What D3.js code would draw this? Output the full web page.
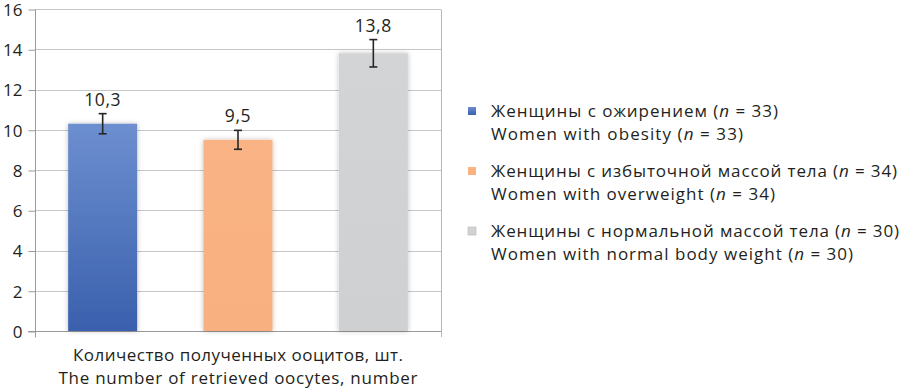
<!DOCTYPE html>
<html><head><meta charset="utf-8">
<script src="https://cdn.jsdelivr.net/npm/d3@7"></script>
<style>html,body{margin:0;padding:0;background:#fff;}svg{display:block;}</style>
</head><body>
<svg id="chart" width="900" height="388"></svg>
<script>
const groups = ["obesity", "overweight", "normal"];
const values = [10.3, 9.5, 13.8];
const errors = [0.5, 0.47, 0.68];
const valueLabels = ["10,3", "9,5", "13,8"];
const colorsTop = ["#6d8fd0", "#f9b384", "#d3d4d6"];
const colorsBottom = ["#3a60ad", "#f9b080", "#cfd0d2"];
const yTicks = [0, 2, 4, 6, 8, 10, 12, 14, 16];
const categoryLabel = ["Количество полученных ооцитов, шт.", "The number of retrieved oocytes, number"];
const legendRu = ["Женщины с ожирением", "Женщины с избыточной массой тела", "Женщины с нормальной массой тела"];
const legendEn = ["Women with obesity", "Women with overweight", "Women with normal body weight"];
const legendN = [33, 34, 30];

const svg = d3.select("#chart");
const font = "'Open Sans', sans-serif";
const pLeft = 35, pRight = 441, pTop = 9, pBottom = 331;

const x = d3.scaleBand().domain(groups).range([pLeft, pRight]).paddingInner(0.49).paddingOuter(0.245);
const y = d3.scaleLinear().domain([0, 16]).range([pBottom, pTop]);

const defs = svg.append("defs");
groups.forEach((g, i) => {
  const lg = defs.append("linearGradient").attr("id", "grad" + i).attr("x1", 0).attr("y1", 0).attr("x2", 0).attr("y2", 1);
  lg.append("stop").attr("offset", "0%").attr("stop-color", colorsTop[i]);
  lg.append("stop").attr("offset", "100%").attr("stop-color", colorsBottom[i]);
});
const f = defs.append("filter").attr("id", "shadow").attr("x", "-20%").attr("y", "-20%").attr("width", "140%").attr("height", "140%");
f.append("feDropShadow").attr("dx", 0).attr("dy", 0).attr("stdDeviation", 2.5).attr("flood-color", "#000").attr("flood-opacity", 0.25);

// spread a text element to a target width via letter-spacing
function fitWidth(sel, target) {
  sel.each(function() {
    const n = this.getNumberOfChars();
    const w = this.getComputedTextLength();
    if (n > 1) d3.select(this).attr("letter-spacing", ((target - w) / (n - 1)).toFixed(3));
  });
}

// gridlines
svg.append("g").selectAll("line").data(yTicks).join("line")
  .attr("x1", pLeft).attr("x2", pRight)
  .attr("y1", d => Math.round(y(d)) + 0.5).attr("y2", d => Math.round(y(d)) + 0.5)
  .attr("stroke", "#c6c6c6").attr("stroke-width", 1);
// right border
svg.append("line").attr("x1", pRight + 0.5).attr("x2", pRight + 0.5).attr("y1", Math.round(y(16)) + 0.5).attr("y2", Math.round(y(0)) + 6)
  .attr("stroke", "#b8b8b8");

// y axis
const yAxis = d3.axisLeft(y).tickValues(yTicks).tickSize(7).tickPadding(6).tickFormat(d3.format("d"));
const ya = svg.append("g").attr("transform", `translate(${pLeft + 0.5},0.5)`).call(yAxis);
ya.select(".domain").attr("stroke", "#9a9a9a").attr("d", `M0,${y(16)}V${y(0) + 6}`);
ya.selectAll(".tick line").attr("stroke", "#9a9a9a");
ya.selectAll(".tick text").attr("font-family", font).attr("font-size", 17).attr("fill", "#231f20")
  .attr("dy", "0.34em");

// x axis line
svg.append("line").attr("x1", pLeft - 7).attr("x2", pRight).attr("y1", Math.round(y(0)) + 0.5).attr("y2", Math.round(y(0)) + 0.5)
  .attr("stroke", "#9a9a9a");

// bars
svg.append("g").selectAll("rect").data(values).join("rect")
  .attr("x", (d, i) => x(groups[i]))
  .attr("width", x.bandwidth())
  .attr("y", d => y(d))
  .attr("height", d => y(0) - y(d))
  .attr("fill", (d, i) => `url(#grad${i})`)
  .attr("filter", "url(#shadow)");

// error bars
const eb = svg.append("g").attr("stroke", "#262626").attr("stroke-width", 1.6);
values.forEach((v, i) => {
  const cx = x(groups[i]) + x.bandwidth() / 2;
  const y1 = y(v + errors[i]), y2 = y(v - errors[i]);
  eb.append("line").attr("x1", cx).attr("x2", cx).attr("y1", y1).attr("y2", y2);
  eb.append("line").attr("x1", cx - 4).attr("x2", cx + 4).attr("y1", y1).attr("y2", y1);
  eb.append("line").attr("x1", cx - 4).attr("x2", cx + 4).attr("y1", y2).attr("y2", y2);
});

// value labels
svg.append("g").selectAll("text").data(values).join("text")
  .attr("x", (d, i) => x(groups[i]) + x.bandwidth() / 2)
  .attr("y", (d, i) => y(d + errors[i]) - 8)
  .attr("text-anchor", "middle")
  .attr("font-family", font).attr("font-size", 17.5).attr("fill", "#231f20")
  .attr("letter-spacing", 0.6)
  .text((d, i) => valueLabels[i]);

// category label
const catW = [330, 359];
svg.append("g").selectAll("text").data(categoryLabel).join("text")
  .attr("x", (pLeft + pRight) / 2)
  .attr("y", (d, i) => 361 + i * 23)
  .attr("text-anchor", "middle")
  .attr("font-family", font).attr("font-size", 17).attr("fill", "#231f20")
  .attr("textLength", (d, i) => catW[i]).attr("lengthAdjust", "spacing")
  .text(d => d);

// legend
const lg = svg.append("g");
const legY = [117, 177, 237];
const ruW = [287, 406, 408];
const enW = [252, 284, 362];
groups.forEach((g, i) => {
  lg.append("rect").attr("x", 468).attr("y", legY[i] - 10).attr("width", 8).attr("height", 8)
    .attr("fill", `url(#grad${i})`).attr("stroke", i === 2 ? "#bdbdbd" : "none").attr("stroke-width", 0.7);
  const t1 = lg.append("text").attr("x", 491).attr("y", legY[i])
    .attr("font-family", font).attr("font-size", 17).attr("fill", "#231f20");
  t1.append("tspan").text(legendRu[i] + " (");
  t1.append("tspan").attr("font-style", "italic").text("n");
  t1.append("tspan").text(" = " + legendN[i] + ")");
  fitWidth(t1, ruW[i]);
  const t2 = lg.append("text").attr("x", 491).attr("y", legY[i] + 23)
    .attr("font-family", font).attr("font-size", 17).attr("fill", "#231f20");
  t2.append("tspan").text(legendEn[i] + " (");
  t2.append("tspan").attr("font-style", "italic").text("n");
  t2.append("tspan").text(" = " + legendN[i] + ")");
  fitWidth(t2, enW[i]);
});
</script>
</body></html>
